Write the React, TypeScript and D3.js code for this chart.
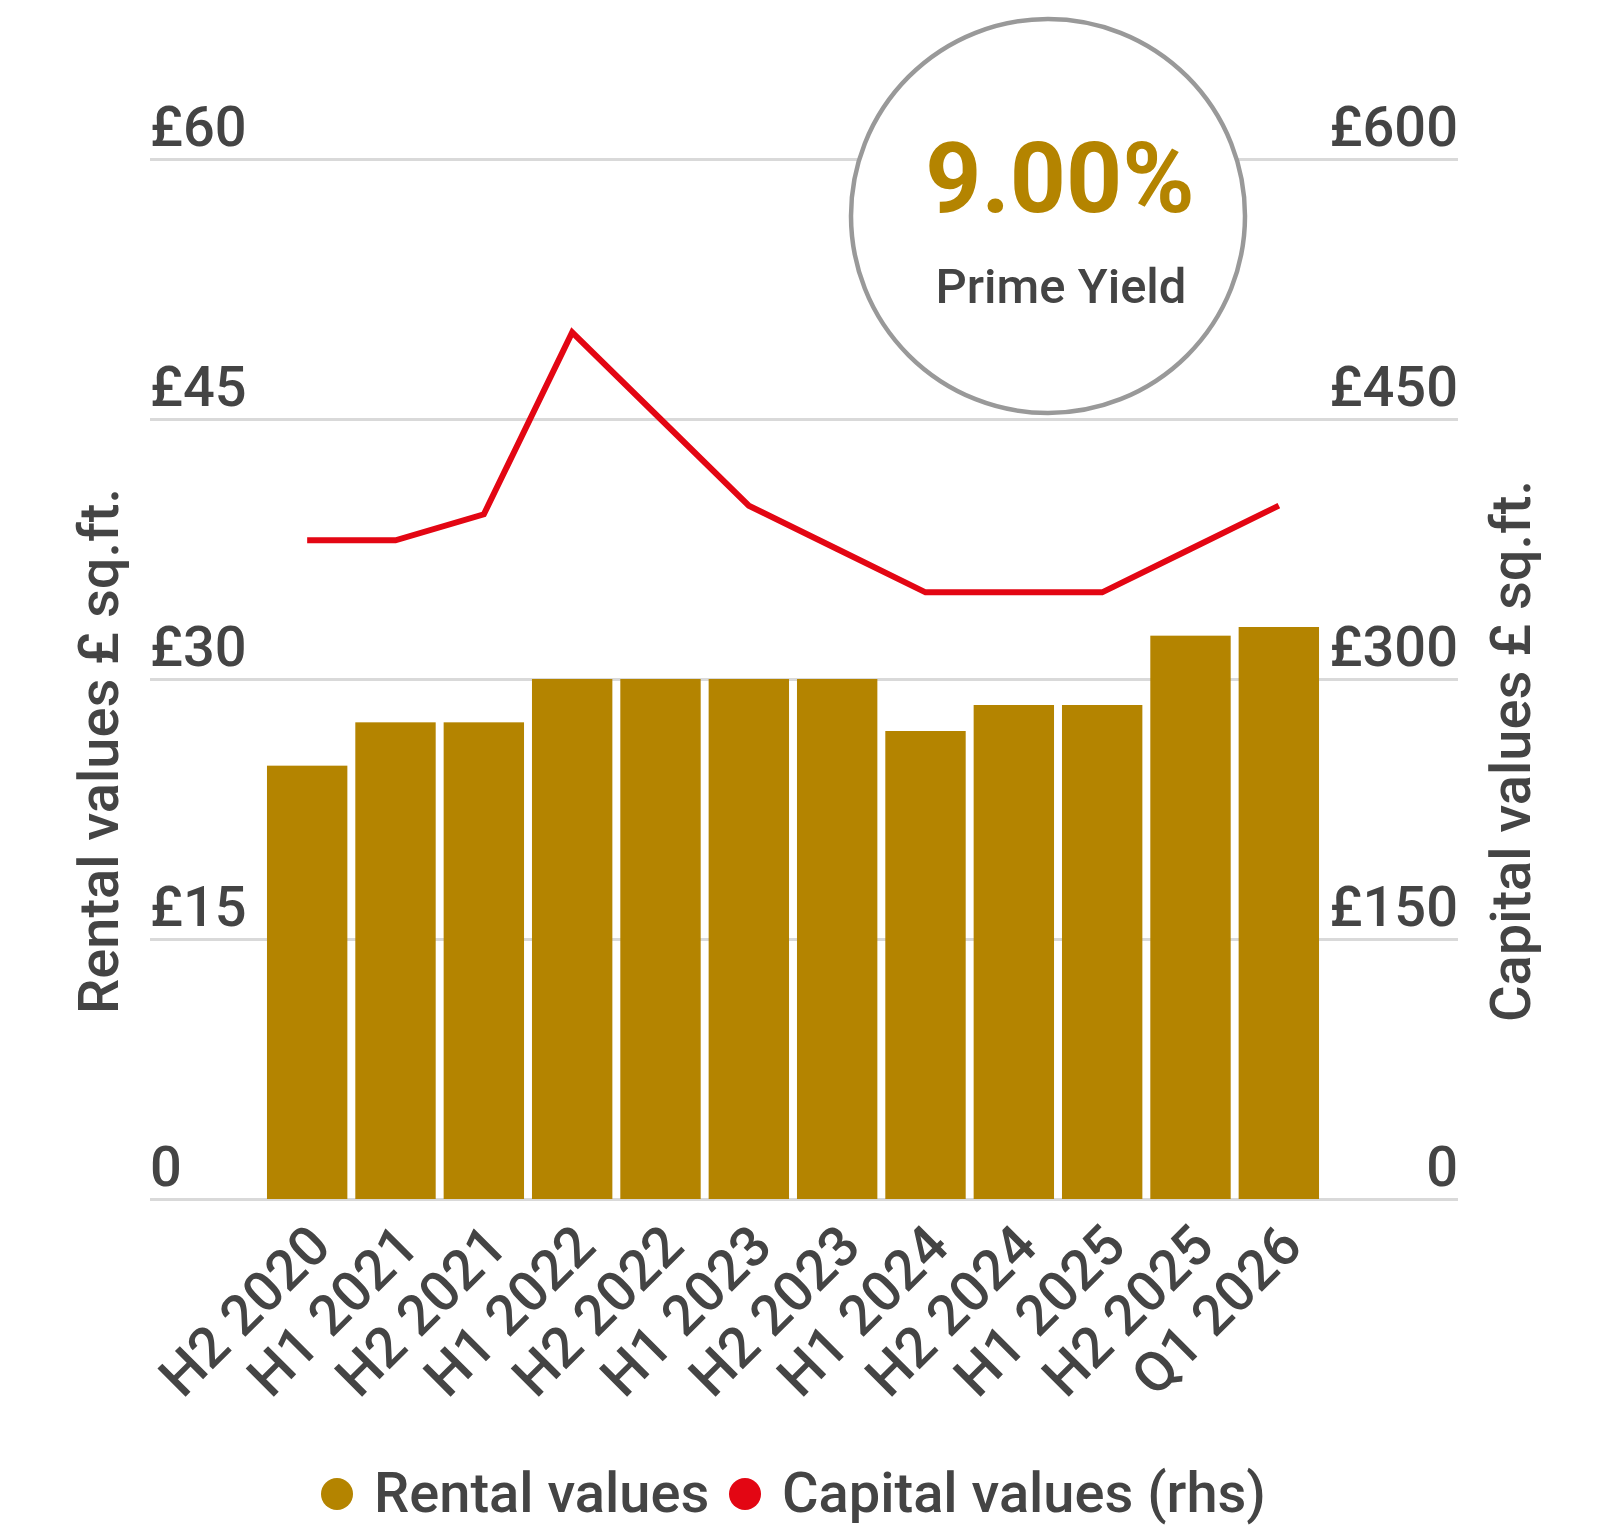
import React, { useRef, useEffect } from "react";
import * as d3 from "d3";

const categories = [
  "H2 2020", "H1 2021", "H2 2021", "H1 2022", "H2 2022", "H1 2023",
  "H2 2023", "H1 2024", "H2 2024", "H1 2025", "H2 2025", "Q1 2026",
];
const rentalValues = [25, 27.5, 27.5, 30, 30, 30, 30, 27, 28.5, 28.5, 32.5, 33];
const capitalValues = [380, 380, 395, 500, 450, 400, 375, 350, 350, 350, 375, 400];
const leftTicks = [0, 15, 30, 45, 60];
const rightTicks = [0, 150, 300, 450, 600];
const primeYield = "9.00%";

const GOLD = "#b48400";
const RED = "#e30613";
const TEXT = "#444444";
const FONT = "Roboto, 'Noto Sans', sans-serif";

const App = () => {
  const svgRef = useRef(null);

  useEffect(() => {
    const svg = d3.select(svgRef.current);
    svg.selectAll("*").remove();

    const left = 150;
    const right = 1458;
    const top = 159;
    const bottom = 1199;

    const yL = d3.scaleLinear().domain([0, 60]).range([bottom, top]);
    const yR = d3.scaleLinear().domain([0, 600]).range([bottom, top]);
    const x = d3
      .scaleBand()
      .domain(categories)
      .range([263, 1323])
      .paddingInner(0.09)
      .paddingOuter(0.045);

    const money = (d) => (d === 0 ? "0" : `£${d}`);

    // left axis + gridlines
    const gl = svg
      .append("g")
      .attr("transform", `translate(${left},0)`)
      .call(d3.axisRight(yL).tickValues(leftTicks).tickSize(right - left).tickFormat(money));
    gl.select(".domain").remove();
    gl.selectAll("line").attr("stroke", "#d9d9d9").attr("stroke-width", 3);
    gl.selectAll("text")
      .attr("x", 0)
      .attr("dy", -14)
      .attr("text-anchor", "start")
      .attr("fill", TEXT)
      .style("font", `500 56px ${FONT}`);

    // right axis labels
    const gr = svg
      .append("g")
      .attr("transform", `translate(${right},0)`)
      .call(d3.axisLeft(yR).tickValues(rightTicks).tickSize(0).tickFormat(money));
    gr.select(".domain").remove();
    gr.selectAll("text")
      .attr("x", 0)
      .attr("dy", -14)
      .attr("text-anchor", "end")
      .attr("fill", TEXT)
      .style("font", `500 56px ${FONT}`);

    // bars
    svg
      .append("g")
      .selectAll("rect")
      .data(rentalValues)
      .enter()
      .append("rect")
      .attr("x", (d, i) => x(categories[i]))
      .attr("y", (d) => yL(d))
      .attr("width", x.bandwidth())
      .attr("height", (d) => bottom - yL(d))
      .attr("fill", GOLD);

    // line
    const line = d3
      .line()
      .x((d, i) => x(categories[i]) + x.bandwidth() / 2)
      .y((d) => yR(d));
    svg
      .append("path")
      .datum(capitalValues)
      .attr("d", line)
      .attr("fill", "none")
      .attr("stroke", RED)
      .attr("stroke-width", 6);

    // x axis labels
    const gx = svg
      .append("g")
      .attr("transform", `translate(0,${bottom})`)
      .call(d3.axisBottom(x).tickSize(0));
    gx.select(".domain").remove();
    gx.selectAll("text")
      .attr("y", 0)
      .attr("dy", 0)
      .attr("text-anchor", "end")
      .attr("transform", "translate(26,50) rotate(-45)")
      .attr("fill", TEXT)
      .style("font", `500 56px ${FONT}`);

    // axis titles
    svg
      .append("text")
      .attr("transform", "translate(118,751) rotate(-90)")
      .attr("text-anchor", "middle")
      .attr("fill", TEXT)
      .style("font", `500 56px ${FONT}`)
      .text("Rental values £ sq.ft.");
    svg
      .append("text")
      .attr("transform", "translate(1530,751) rotate(-90)")
      .attr("text-anchor", "middle")
      .attr("fill", TEXT)
      .style("font", `500 56px ${FONT}`)
      .text("Capital values £ sq.ft.");

    // prime yield badge
    svg
      .append("circle")
      .attr("cx", 1048)
      .attr("cy", 216)
      .attr("r", 197)
      .attr("fill", "#fff")
      .attr("stroke", "#999")
      .attr("stroke-width", 4.5);
    svg
      .append("text")
      .attr("x", 1060)
      .attr("y", 212)
      .attr("text-anchor", "middle")
      .attr("fill", GOLD)
      .style("font", `700 98px ${FONT}`)
      .text(primeYield);
    svg
      .append("text")
      .attr("x", 1061)
      .attr("y", 303)
      .attr("text-anchor", "middle")
      .attr("fill", TEXT)
      .style("font", `500 49px ${FONT}`)
      .text("Prime Yield");

    // legend
    const legend = [
      { label: "Rental values", color: GOLD, cx: 337, tx: 374 },
      { label: "Capital values (rhs)", color: RED, cx: 745, tx: 782 },
    ];
    const lg = svg.append("g");
    legend.forEach((l) => {
      lg.append("circle").attr("cx", l.cx).attr("cy", 1494).attr("r", 16).attr("fill", l.color);
      lg.append("text")
        .attr("x", l.tx)
        .attr("y", 1512)
        .attr("fill", TEXT)
        .style("font", `500 56px ${FONT}`)
        .text(l.label);
    });
  }, []);

  return (
    <svg
      ref={svgRef}
      width={1604}
      height={1529}
      style={{ position: "absolute", left: 0, top: 0, background: "#fff" }}
    />
  );
};

export default App;
